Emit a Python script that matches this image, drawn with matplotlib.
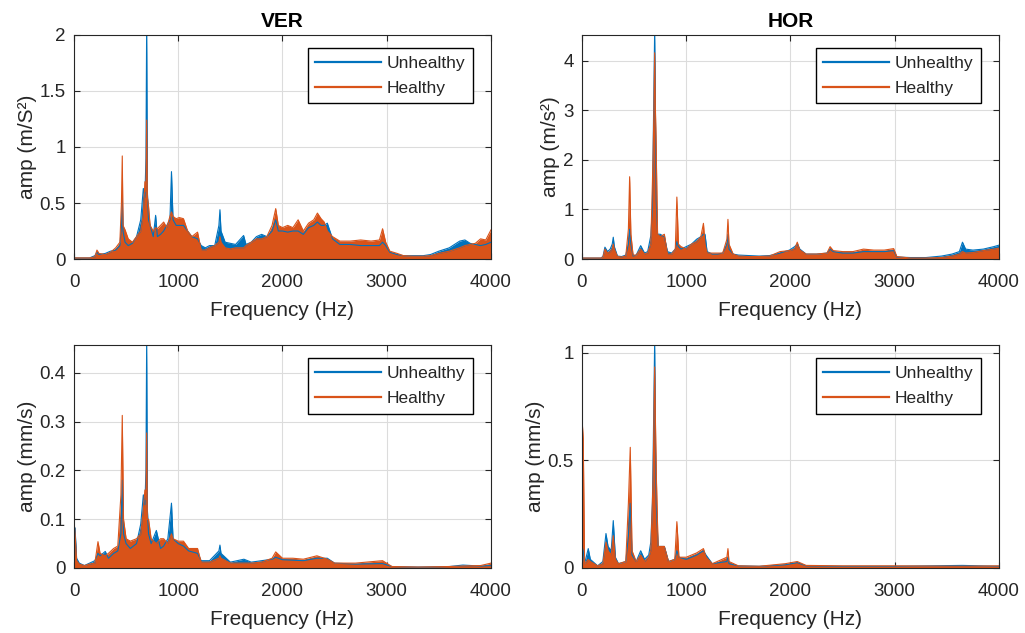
import numpy as np
import matplotlib.pyplot as plt

plt.rcParams['font.family'] = ['Liberation Sans', 'DejaVu Sans']

# --- VER, acceleration (m/S^2) ---
f_ver_acc = [0, 150, 200, 220, 240, 300, 350, 400, 440, 455, 463, 470, 490, 520, 560,
             600, 640, 665, 680, 690, 697, 704, 715, 730, 760, 783, 800, 830, 860, 890,
             920, 935, 950, 980, 1010, 1050, 1090, 1130, 1185, 1220, 1260, 1300, 1350,
             1390, 1400, 1410, 1450, 1500, 1550, 1627, 1650, 1700, 1750, 1800, 1850,
             1900, 1935, 1960, 2000, 2050, 2100, 2150, 2200, 2250, 2300, 2335, 2370,
             2400, 2430, 2480, 2550, 2650, 2750, 2850, 2930, 2960, 2990, 3030, 3100,
             3160, 3250, 3350, 3420, 3500, 3600, 3700, 3750, 3800, 3850, 3900, 3950, 4000]
ver_acc_unh = [0.01, 0.01, 0.03, 0.06, 0.04, 0.05, 0.07, 0.08, 0.12, 0.3, 0.56, 0.25, 0.15,
               0.12, 0.14, 0.2, 0.35, 0.63, 0.55, 0.9, 2.1, 0.6, 0.35, 0.3, 0.2, 0.39, 0.2,
               0.22, 0.25, 0.3, 0.35, 0.78, 0.35, 0.3, 0.3, 0.3, 0.25, 0.2, 0.18, 0.12, 0.1,
               0.12, 0.12, 0.3, 0.44, 0.25, 0.15, 0.14, 0.13, 0.21, 0.13, 0.15, 0.2, 0.22,
               0.2, 0.25, 0.35, 0.25, 0.25, 0.24, 0.25, 0.25, 0.22, 0.28, 0.3, 0.33, 0.3,
               0.3, 0.32, 0.18, 0.13, 0.13, 0.12, 0.12, 0.12, 0.15, 0.12, 0.06, 0.04, 0.03,
               0.03, 0.03, 0.04, 0.07, 0.1, 0.16, 0.17, 0.14, 0.13, 0.12, 0.13, 0.15]
ver_acc_hea = [0.01, 0.01, 0.02, 0.08, 0.05, 0.04, 0.06, 0.1, 0.15, 0.5, 0.92, 0.3, 0.26,
               0.18, 0.15, 0.2, 0.25, 0.4, 0.69, 0.6, 1.24, 0.55, 0.47, 0.3, 0.25, 0.28,
               0.27, 0.3, 0.33, 0.28, 0.38, 0.42, 0.38, 0.36, 0.37, 0.36, 0.25, 0.2, 0.24,
               0.08, 0.08, 0.1, 0.12, 0.15, 0.2, 0.15, 0.1, 0.09, 0.1, 0.1, 0.12, 0.15,
               0.18, 0.18, 0.2, 0.3, 0.45, 0.3, 0.28, 0.3, 0.28, 0.35, 0.25, 0.32, 0.35,
               0.41, 0.36, 0.33, 0.25, 0.2, 0.16, 0.16, 0.17, 0.16, 0.17, 0.27, 0.15, 0.07,
               0.05, 0.03, 0.025, 0.025, 0.03, 0.05, 0.07, 0.1, 0.12, 0.13, 0.14, 0.18,
               0.17, 0.26]

# --- HOR, acceleration (m/s^2) ---
f_hor_acc = [0, 180, 201, 220, 245, 270, 290, 300, 310, 340, 380, 420, 445, 457, 469, 490,
             520, 563, 600, 630, 660, 675, 683, 690, 697, 704, 712, 725, 750, 790, 820, 860,
             895, 910, 925, 950, 1000, 1050, 1100, 1140, 1165, 1180, 1200, 1250, 1300,
             1350, 1390, 1400, 1410, 1450, 1500, 1600, 1700, 1800, 1900, 1990, 2040, 2065,
             2090, 2150, 2250, 2350, 2380, 2410, 2500, 2600, 2700, 2800, 2900, 2990, 3020,
             3150, 3300, 3450, 3550, 3620, 3650, 3680, 3750, 3850, 3950, 4000]
hor_acc_unh = [0.02, 0.02, 0.05, 0.24, 0.15, 0.2, 0.3, 0.44, 0.25, 0.06, 0.05, 0.08, 0.3,
               0.6, 0.3, 0.06, 0.08, 0.27, 0.12, 0.15, 0.47, 1.0, 2.33, 3.5, 4.6, 3.0, 1.2,
               0.5, 0.5, 0.45, 0.15, 0.12, 0.2, 0.35, 0.25, 0.2, 0.25, 0.3, 0.4, 0.45, 0.5,
               0.5, 0.15, 0.1, 0.1, 0.12, 0.3, 0.5, 0.2, 0.1, 0.08, 0.07, 0.06, 0.07, 0.12,
               0.18, 0.25, 0.3, 0.2, 0.1, 0.1, 0.12, 0.2, 0.15, 0.12, 0.12, 0.15, 0.15,
               0.15, 0.17, 0.04, 0.03, 0.03, 0.06, 0.1, 0.15, 0.34, 0.2, 0.18, 0.2, 0.25,
               0.28]
hor_acc_hea = [0.02, 0.02, 0.04, 0.2, 0.12, 0.15, 0.2, 0.3, 0.2, 0.05, 0.04, 0.06, 0.6,
               1.66, 0.5, 0.08, 0.08, 0.2, 0.1, 0.12, 0.3, 1.5, 2.2, 3.0, 4.16, 3.07, 2.2,
               0.5, 0.45, 0.5, 0.1, 0.1, 0.2, 1.25, 0.3, 0.25, 0.2, 0.3, 0.35, 0.45, 0.72,
               0.3, 0.12, 0.12, 0.12, 0.12, 0.4, 0.8, 0.3, 0.1, 0.06, 0.05, 0.05, 0.06,
               0.15, 0.17, 0.2, 0.34, 0.18, 0.1, 0.1, 0.12, 0.25, 0.17, 0.15, 0.15, 0.2,
               0.18, 0.18, 0.21, 0.05, 0.02, 0.02, 0.03, 0.06, 0.1, 0.15, 0.12, 0.13, 0.17,
               0.2, 0.22]

# --- VER, velocity (mm/s) ---
f_ver_vel = [0, 10, 25, 50, 100, 150, 200, 230, 250, 300, 330, 380, 420, 450, 463, 475,
             500, 540, 600, 640, 665, 680, 690, 697, 704, 715, 740, 790, 830, 860, 900, 935,
             950, 1000, 1050, 1100, 1185, 1220, 1300, 1390, 1400, 1410, 1500, 1630, 1700,
             1800, 1900, 1935, 2000, 2100, 2200, 2330, 2430, 2500, 2700, 2960, 3050, 3300,
             3600, 3730, 3900, 4000]
ver_vel_unh = [0.085, 0.082, 0.02, 0.01, 0.005, 0.01, 0.015, 0.03, 0.025, 0.034, 0.02, 0.03,
               0.035, 0.07, 0.18, 0.07, 0.05, 0.04, 0.05, 0.09, 0.15, 0.13, 0.2, 0.47, 0.12,
               0.07, 0.05, 0.077, 0.04, 0.045, 0.06, 0.133, 0.06, 0.05, 0.045, 0.035, 0.03,
               0.015, 0.015, 0.035, 0.047, 0.03, 0.012, 0.018, 0.012, 0.015, 0.018, 0.022,
               0.017, 0.016, 0.015, 0.02, 0.02, 0.01, 0.008, 0.009, 0.003, 0.002, 0.003,
               0.006, 0.004, 0.005]
ver_vel_hea = [0.098, 0.07, 0.015, 0.008, 0.005, 0.008, 0.01, 0.054, 0.03, 0.025, 0.03, 0.04,
               0.045, 0.15, 0.313, 0.1, 0.06, 0.055, 0.06, 0.07, 0.12, 0.16, 0.14, 0.277,
               0.1, 0.1, 0.06, 0.05, 0.06, 0.06, 0.05, 0.07, 0.06, 0.055, 0.055, 0.04, 0.04,
               0.012, 0.012, 0.02, 0.025, 0.02, 0.01, 0.01, 0.01, 0.012, 0.02, 0.033, 0.02,
               0.02, 0.018, 0.025, 0.018, 0.01, 0.01, 0.015, 0.003, 0.002, 0.003, 0.004,
               0.005, 0.01]

# --- HOR, velocity (mm/s) ---
f_hor_vel = [0, 12, 25, 45, 60, 80, 150, 200, 230, 250, 280, 300, 320, 350, 420, 445, 463,
             480, 520, 563, 600, 640, 660, 675, 683, 690, 697, 704, 712, 730, 790, 830, 890,
             910, 930, 1000, 1100, 1165, 1190, 1250, 1390, 1400, 1410, 1500, 1700, 1950,
             2065, 2150, 2500, 3000, 3650, 4000]
hor_vel_unh = [0.1, 0.08, 0.02, 0.06, 0.09, 0.04, 0.01, 0.03, 0.16, 0.1, 0.08, 0.22, 0.05,
               0.02, 0.03, 0.15, 0.3, 0.06, 0.03, 0.08, 0.04, 0.06, 0.12, 0.3, 0.54, 0.8,
               1.05, 0.6, 0.3, 0.1, 0.1, 0.03, 0.04, 0.08, 0.05, 0.04, 0.06, 0.08, 0.06,
               0.02, 0.03, 0.05, 0.02, 0.01, 0.008, 0.015, 0.025, 0.01, 0.008, 0.008, 0.012,
               0.008]
hor_vel_hea = [0.694, 0.6, 0.02, 0.03, 0.04, 0.03, 0.01, 0.02, 0.12, 0.08, 0.06, 0.15, 0.04,
               0.02, 0.03, 0.3, 0.56, 0.08, 0.03, 0.06, 0.03, 0.05, 0.08, 0.3, 0.43, 0.7,
               0.933, 0.7, 0.45, 0.1, 0.1, 0.03, 0.04, 0.215, 0.05, 0.05, 0.07, 0.09, 0.05,
               0.02, 0.05, 0.09, 0.03, 0.01, 0.008, 0.02, 0.03, 0.012, 0.01, 0.01, 0.008,
               0.01]

blue = '#0072BD'
orange = '#D95319'
ink = '#262626'

panels = [
    (f_ver_acc, ver_acc_unh, ver_acc_hea, 'amp (m/S²)', (0, 2), [0, 0.5, 1, 1.5, 2], 'VER'),
    (f_hor_acc, hor_acc_unh, hor_acc_hea, 'amp (m/s²)', (0, 4.52), [0, 1, 2, 3, 4], 'HOR'),
    (f_ver_vel, ver_vel_unh, ver_vel_hea, 'amp (mm/s)', (0, 0.457), [0, 0.1, 0.2, 0.3, 0.4], None),
    (f_hor_vel, hor_vel_unh, hor_vel_hea, 'amp (mm/s)', (0, 1.034), [0, 0.5, 1], None),
]
rects = [
    [0.0722, 0.5908, 0.4068, 0.354],
    [0.5678, 0.5908, 0.4068, 0.354],
    [0.0722, 0.1027, 0.4068, 0.352],
    [0.5678, 0.1027, 0.4068, 0.352],
]

fig = plt.figure(figsize=(10.25, 6.33), dpi=100)
for rect, (f, unh, hea, ylab, ylim, yt, title) in zip(rects, panels):
    ax = fig.add_axes(rect)
    f = np.array(f)
    ax.fill_between(f, unh, color=blue, lw=0)
    ax.plot(f, unh, color=blue, lw=0.8, label='Unhealthy')
    ax.fill_between(f, hea, color=orange, lw=0)
    ax.plot(f, hea, color=orange, lw=0.8, label='Healthy')
    ax.set_xlim(0, 4000)
    ax.set_ylim(*ylim)
    ax.set_xticks([0, 1000, 2000, 3000, 4000])
    ax.set_yticks(yt)
    ax.set_yticklabels([f'{v:g}' for v in yt])
    ax.grid(True, color='#dcdcdc', lw=0.8)
    ax.set_axisbelow(True)
    ax.tick_params(direction='in', top=True, right=True, labelsize=13.5,
                   colors=ink, length=4, width=0.8)
    ax.tick_params(axis='x', pad=11)
    ax.tick_params(axis='y', pad=6)
    for sp in ax.spines.values():
        sp.set_color(ink)
        sp.set_linewidth(0.8)
        sp.set_zorder(5)
    ax.set_xlabel('Frequency (Hz)', fontsize=15, color=ink, labelpad=7)
    ax.set_ylabel(ylab, fontsize=15, color=ink, labelpad=2)
    if title:
        ax.set_title(title, fontsize=15, fontweight='bold', color='black', pad=6)
    leg = ax.legend(loc='upper right', bbox_to_anchor=(0.957, 0.942), borderaxespad=0,
                    fontsize=12.5, handlelength=3.8, handletextpad=0.3,
                    labelspacing=0.55, borderpad=0.45, fancybox=False, framealpha=1)
    leg.get_frame().set_edgecolor('black')
    leg.get_frame().set_linewidth(1.0)
    for line in leg.get_lines():
        line.set_linewidth(1.6)
    for t in leg.get_texts():
        t.set_color(ink)

fig.savefig('out.png', dpi=100)
